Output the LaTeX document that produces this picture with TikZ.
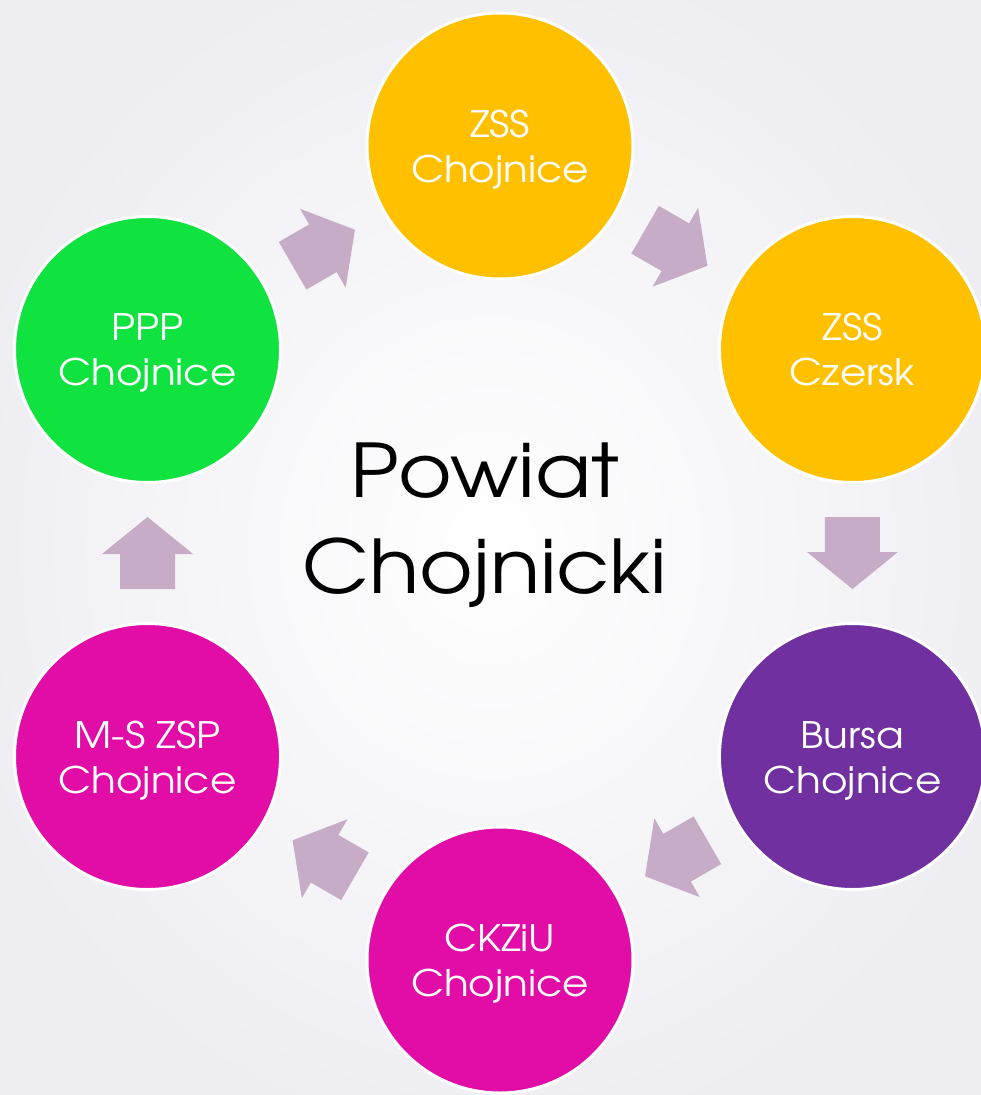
\documentclass[tikz,border=0pt]{standalone}
\usepackage{fontspec}
\setmainfont{TeX Gyre Adventor}[FakeStretch=1.11]
\usetikzlibrary{calc}
\definecolor{zssyellow}{HTML}{FFC000}
\definecolor{pppgreen}{HTML}{10E240}
\definecolor{bursapurple}{HTML}{7030A0}
\definecolor{pinkmag}{HTML}{E20CA6}
\definecolor{arrowcol}{HTML}{C6ACC7}
\definecolor{bgouter}{HTML}{EEEDF2}
\tikzset{
  blob/.style={circle, minimum size=266pt, inner sep=0pt, draw=white, line width=3pt},
  lbl/.style={text=white, font=\fontsize{36.5}{45}\selectfont, inner sep=0pt, anchor=base},
  bigtxt/.style={text=black, font=\fontsize{74}{96}\selectfont, inner sep=0pt, anchor=base},
  flowfill/.style={fill=arrowcol}
}
\newcommand\flowarrow[3]{%
  \fill[flowfill, shift={($(#1)!0.5!(#2)$)}, rotate=#3]
    (-36,27.5) -- (-1,27.5) -- (-1,45.5) -- (36,0) -- (-1,-45.5) -- (-1,-27.5) -- (-36,-27.5) -- cycle;}
\newcommand\twolabel[3]{%
  \node[lbl] (#1a) at ([yshift=8.5pt]#1.center) {#2};
  \node[lbl] (#1b) at ([yshift=-36.5pt]#1.center) {#3};}
\begin{document}
\begin{tikzpicture}[x=1pt,y=1pt]
\useasboundingbox (-500,-542) rectangle (481,553);
\clip (-500,-542) rectangle (481,553);
\fill[inner color=white, outer color=bgouter] (-560,-600) rectangle (541,611);

\node[blob, fill=zssyellow] (zssch) at (90:407) {};
\node[blob, fill=zssyellow] (zsscz) at (30:407) {};
\node[blob, fill=bursapurple] (bursa) at (-30:407) {};
\node[blob, fill=pinkmag] (ckziu) at (-90:407) {};
\node[blob, fill=pinkmag] (mszsp) at (-150:407) {};
\node[blob, fill=pppgreen] (ppp) at (150:407) {};

\twolabel{zssch}{ZSS}{Chojnice}
\twolabel{zsscz}{ZSS}{Czersk}
\twolabel{bursa}{Bursa}{Chojnice}
\twolabel{ckziu}{CKZiU}{Chojnice}
\twolabel{mszsp}{M-S ZSP}{Chojnice}
\twolabel{ppp}{PPP}{Chojnice}

\flowarrow{zssch}{zsscz}{-30}
\flowarrow{zsscz}{bursa}{-90}
\flowarrow{bursa}{ckziu}{-150}
\flowarrow{ckziu}{mszsp}{150}
\flowarrow{mszsp}{ppp}{90}
\flowarrow{ppp}{zssch}{30}

\node[bigtxt] (powiat) at (-15,56) {Powiat};
\node[bigtxt] (chojnicki) at (-15,-40) {Chojnicki};
\end{tikzpicture}
\end{document}
